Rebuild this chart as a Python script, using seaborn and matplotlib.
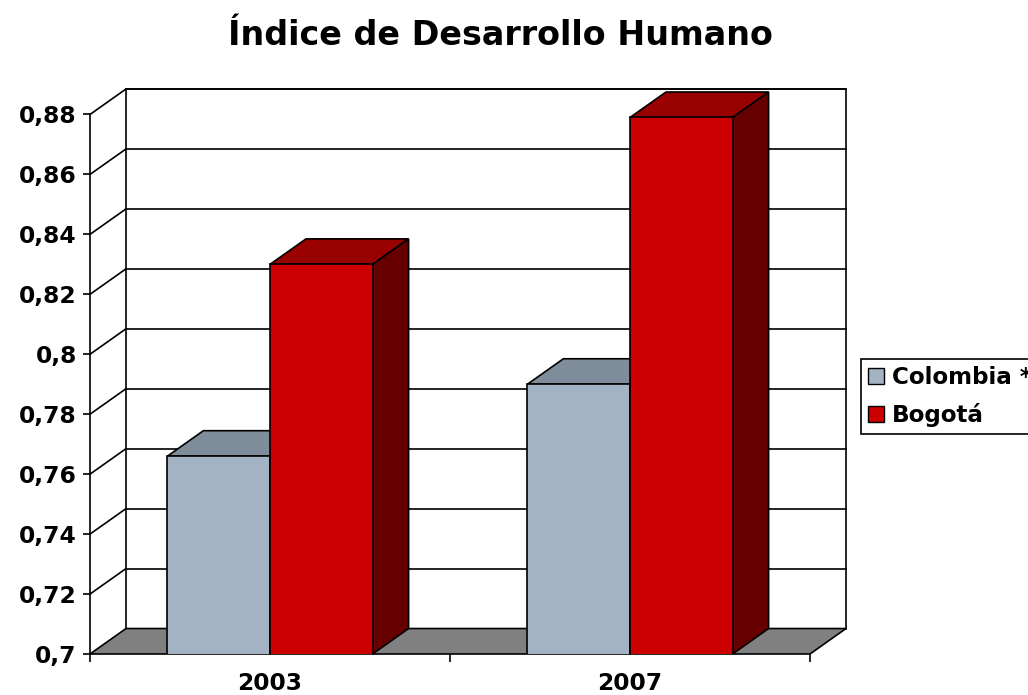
import numpy as np
import pandas as pd
import seaborn as sns
import matplotlib.pyplot as plt
from matplotlib.patches import Polygon, Patch

years = ["2003", "2007"]
series = ["Colombia *", "Bogotá"]
colombia = [0.766, 0.790]
bogota = [0.830, 0.879]
yticks = [0.70, 0.72, 0.74, 0.76, 0.78, 0.80, 0.82, 0.84, 0.86, 0.88]
ytick_labels = ["0,7", "0,72", "0,74", "0,76", "0,78", "0,8", "0,82", "0,84", "0,86", "0,88"]

front_cols = ["#A3B3C3", "#CC0000"]
top_cols = ["#7F8C99", "#990000"]
side_cols = ["#5E6873", "#660000"]

df = pd.DataFrame({
    "year": years * 2,
    "serie": [series[0]] * 2 + [series[1]] * 2,
    "idh": colombia + bogota,
})

sns.set_style("white")
plt.rcParams["font.family"] = ["DejaVu Sans"]
plt.rcParams["font.weight"] = "bold"
plt.rcParams["text.color"] = "black"
plt.rcParams["xtick.labelcolor"] = "black"
plt.rcParams["ytick.labelcolor"] = "black"

# depth offset of the fake 3d box (data units)
DX, DY = 0.1, 0.0085
y0, y1 = yticks[0], yticks[-1]
xl, xr = -0.5, 1.5

fig = plt.figure(figsize=(10.28, 6.95), dpi=100)
ax = fig.add_axes([90 / 1028, 41 / 695, 756 / 1028, 565 / 695])

sns.barplot(df, x="year", y="idh", hue="serie", palette=front_cols, width=0.57,
            edgecolor="black", linewidth=1.2, saturation=1, ax=ax, legend=False, zorder=3)

ax.set_xlim(xl, xr + DX)
ax.set_ylim(y0, y1 + DY)

lw = 1.2
# back wall
ax.add_patch(Polygon([(xl + DX, y0 + DY), (xr + DX, y0 + DY), (xr + DX, y1 + DY), (xl + DX, y1 + DY)],
                     closed=True, facecolor="white", edgecolor="black", lw=lw, zorder=0.5, clip_on=False))
# floor
ax.add_patch(Polygon([(xl, y0), (xr, y0), (xr + DX, y0 + DY), (xl + DX, y0 + DY)],
                     closed=True, facecolor="#808080", edgecolor="black", lw=lw, zorder=1, clip_on=False))
# gridlines on back wall and left side
for y in yticks[1:]:
    ax.plot([xl + DX, xr + DX], [y + DY, y + DY], color="black", lw=lw, zorder=0.8, clip_on=False)
    ax.plot([xl, xl + DX], [y, y + DY], color="black", lw=lw, zorder=0.8, clip_on=False)
ax.plot([xl, xl], [y0, y1], color="black", lw=lw, zorder=4, clip_on=False)

# tops and sides of the bars
for i, p in enumerate(ax.patches[:4]):
    k = i // 2
    x0, w, h = p.get_x(), p.get_width(), p.get_height()
    ax.add_patch(Polygon([(x0, h), (x0 + w, h), (x0 + w + DX, h + DY), (x0 + DX, h + DY)],
                         closed=True, facecolor=top_cols[k], edgecolor="black", lw=lw, zorder=2, clip_on=False))
    ax.add_patch(Polygon([(x0 + w, y0), (x0 + w + DX, y0 + DY), (x0 + w + DX, h + DY), (x0 + w, h)],
                         closed=True, facecolor=side_cols[k], edgecolor="black", lw=lw, zorder=2, clip_on=False))

for s in ax.spines.values():
    s.set_visible(False)

ax.set_yticks(yticks, ytick_labels)
ax.set_xticks([0, 1], years)
ax.set_xticks([xl, 0.5, xr], minor=True)
ax.tick_params(axis="y", left=True, length=5, width=lw, pad=4.5, labelsize=16.8, color="black")
ax.tick_params(axis="x", which="major", length=0, pad=13, labelsize=16.8)
ax.tick_params(axis="x", which="minor", bottom=True, length=6, width=lw, color="black")
ax.set_xlabel("")
ax.set_ylabel("")

fig.text(0.487, 1 - 45 / 695, "Índice de Desarrollo Humano", ha="center", va="baseline",
         fontsize=24, fontweight="bold")

# legend box runs past the right edge, as in the original
handles = [Patch(facecolor=c, edgecolor="black", lw=1) for c in front_cols]
leg = fig.legend(handles, series, loc="upper left", bbox_to_anchor=(861 / 1028, 1 - 359 / 695),
                 frameon=True, fancybox=False, edgecolor="black", framealpha=1,
                 prop={"size": 16.6, "weight": "bold"}, handlelength=0.7, handleheight=0.7,
                 handletextpad=0.35, borderpad=0.3, labelspacing=0.6, borderaxespad=0)
leg.get_frame().set_linewidth(1.2)

fig.savefig("out.png", dpi=100)
